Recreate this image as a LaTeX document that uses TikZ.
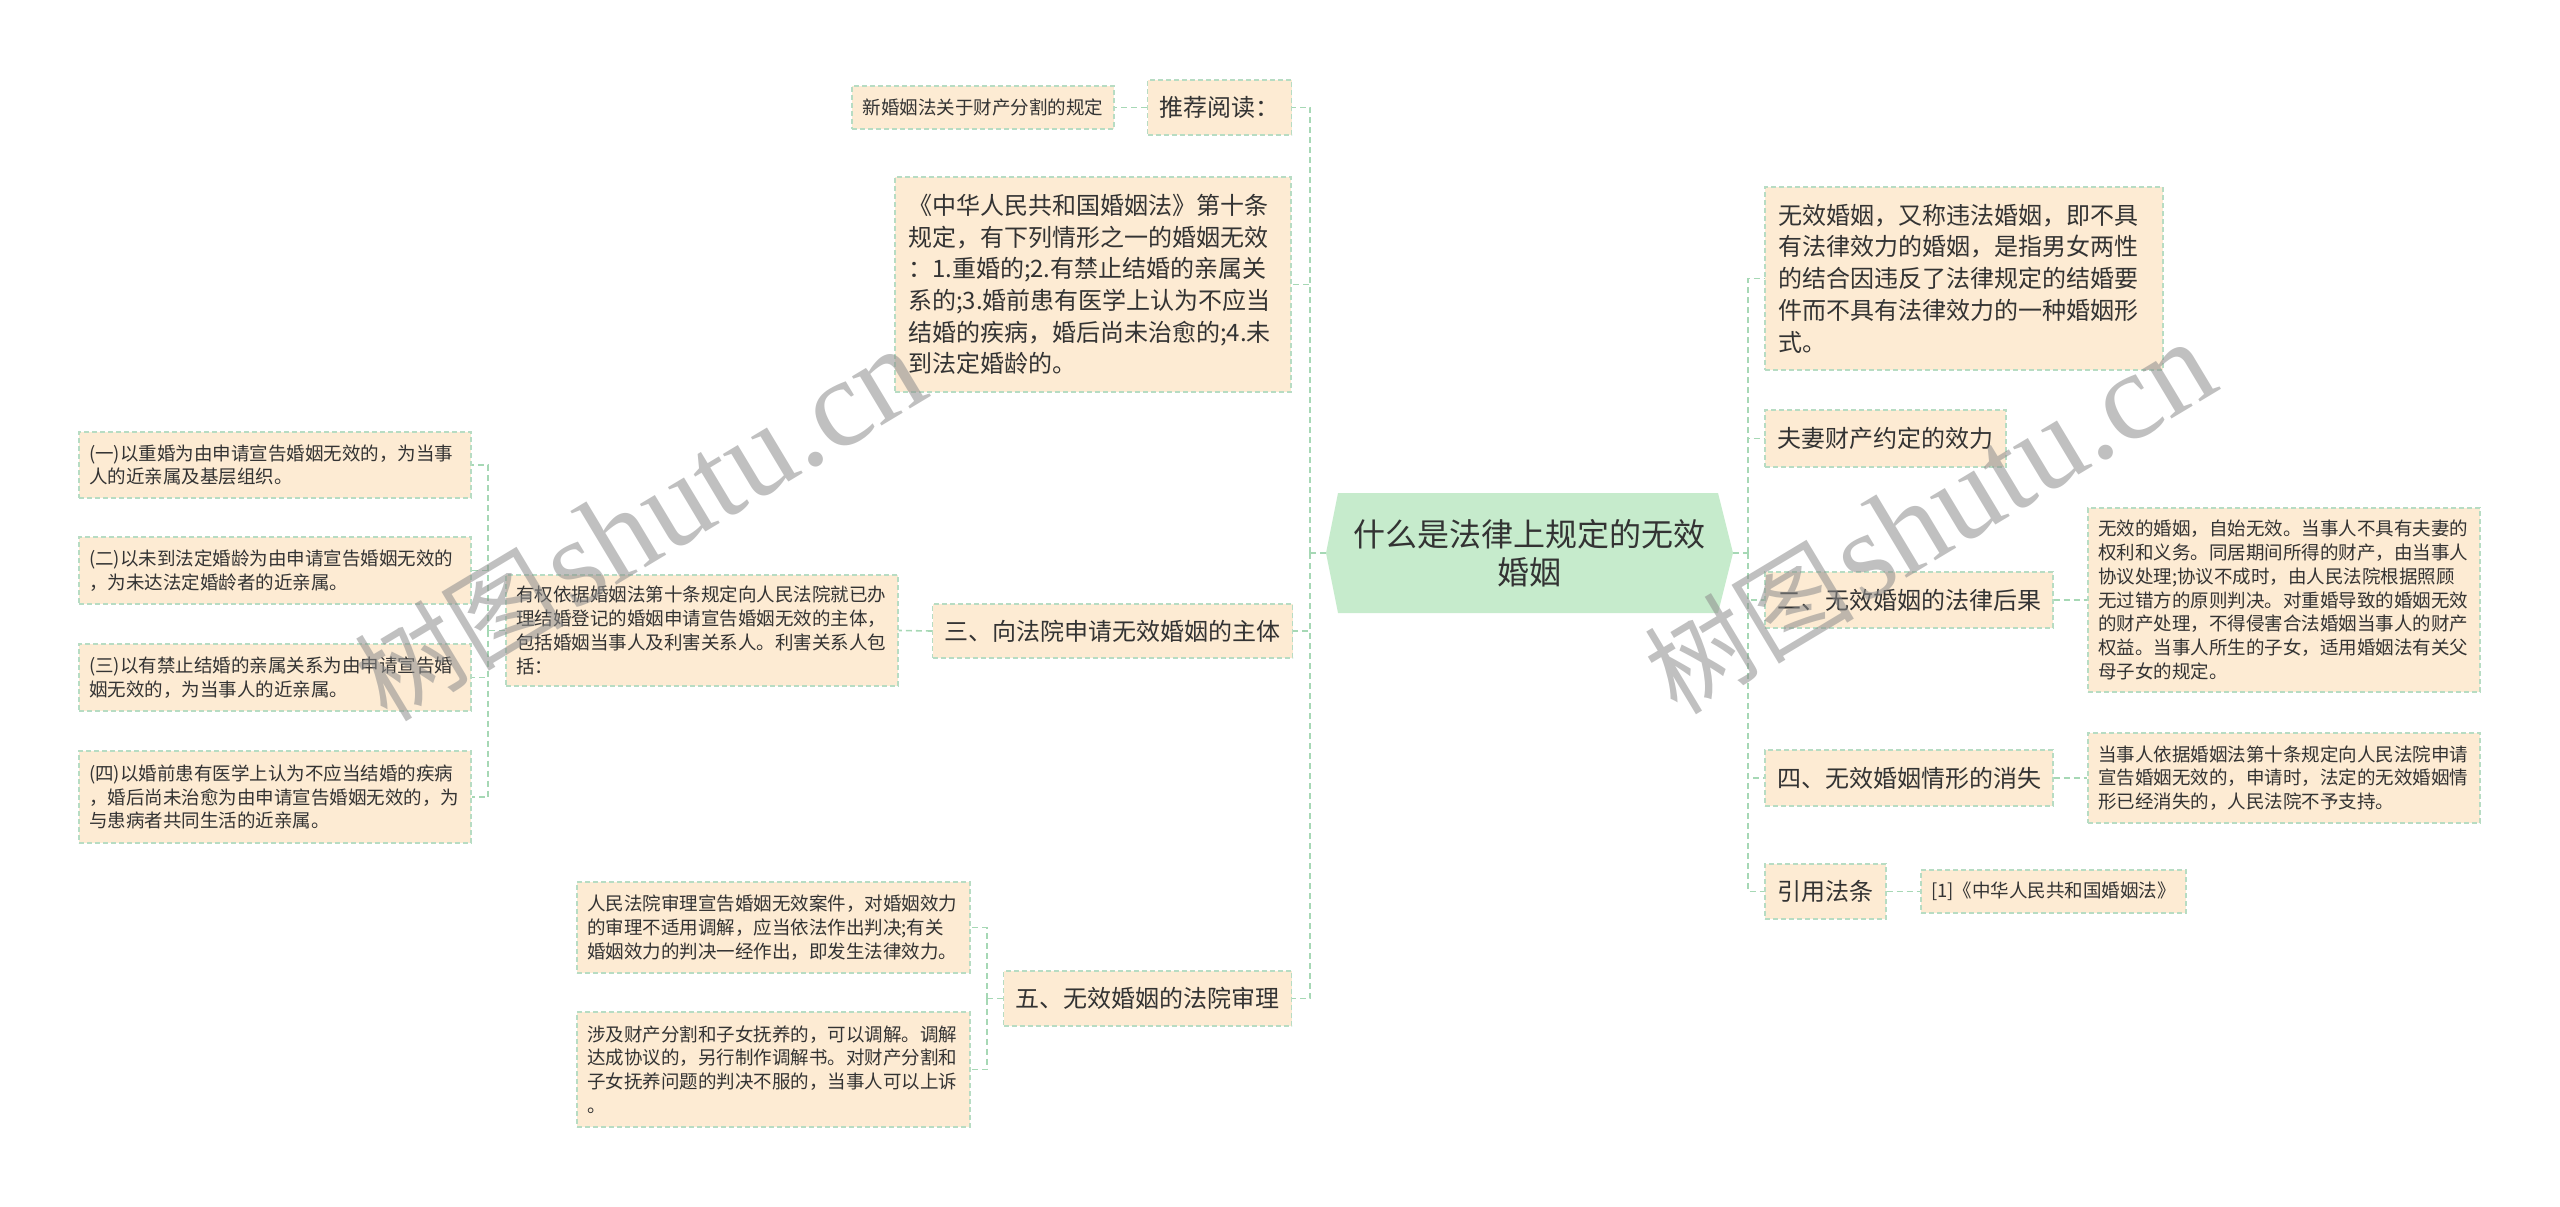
\documentclass[tikz,border=0pt]{standalone}
\usepackage{fontspec}
\setmainfont{Noto Sans CJK SC}
\newfontfamily\wmserif{Liberation Serif}
\newfontfamily\wmcjk{Noto Sans CJK SC}
\usetikzlibrary{calc}
\definecolor{boxfill}{HTML}{FDEBD3}
\definecolor{boxline}{HTML}{B7DCC3}
\definecolor{connline}{HTML}{A6D8B5}
\definecolor{rootfill}{HTML}{C6EBCC}
\definecolor{txt}{HTML}{333333}
\begin{document}
\begin{tikzpicture}[x=1pt,y=-1pt,
  mainbox/.style={draw=boxline, line width=1.3pt, dash pattern=on 5pt off 3pt, fill=boxfill, text=txt,
    font=\fontsize{24}{31.7}\selectfont, inner xsep=12pt, inner ysep=0pt},
  detailbox/.style={draw=boxline, line width=1.3pt, dash pattern=on 5pt off 3pt, fill=boxfill, text=txt,
    font=\fontsize{18.5}{23.8}\selectfont, inner xsep=10pt, inner ysep=0pt},
  conn/.style={draw=connline, line width=1.6pt, dash pattern=on 6pt off 4pt},
]
\useasboundingbox (0,0) rectangle (2560,1207);

% root
\fill[rootfill] (1326,553) -- (1338,493) -- (1718,493) -- (1733,553) -- (1718,613) -- (1338,613) -- cycle;
\node[font=\fontsize{32}{38}\selectfont, text=txt, align=center, minimum width=407pt, minimum height=120pt, inner sep=0pt] (root) at (1529.5,553) {什么是法律上规定的无效\\婚姻};

% left level 1
\node[mainbox, minimum width=143pt, minimum height=55pt] (tj) at (1219.5,107.5) {推荐阅读：};
\node[mainbox, text width=370pt, inner xsep=13pt, minimum height=215pt, align=left] (zh) at (1093,284.5)
 {《中华人民共和国婚姻法》第十条\\规定，有下列情形之一的婚姻无效\\：1.重婚的;2.有禁止结婚的亲属关\\系的;3.婚前患有医学上认为不应当\\结婚的疾病，婚后尚未治愈的;4.未\\到法定婚龄的。};
\node[mainbox, minimum width=357pt, minimum height=54pt] (san) at (1112.5,631) {三、向法院申请无效婚姻的主体};
\node[mainbox, minimum width=287pt, minimum height=55pt] (wu) at (1147.5,998.5) {五、无效婚姻的法院审理};

% left level 2/3
\node[detailbox, minimum width=262pt, minimum height=43pt] (xh) at (983,107.5) {新婚姻法关于财产分割的规定};
\node[detailbox, text width=372pt, minimum height=111pt, align=left] (yq) at (702,630.5)
 {有权依据婚姻法第十条规定向人民法院就已办\\理结婚登记的婚姻申请宣告婚姻无效的主体，\\包括婚姻当事人及利害关系人。利害关系人包\\括：};
\node[detailbox, text width=372pt, minimum height=66pt, align=left] (c1) at (275,465)
 {(一)以重婚为由申请宣告婚姻无效的，为当事\\人的近亲属及基层组织。};
\node[detailbox, text width=372pt, minimum height=67pt, align=left] (c2) at (275,570.5)
 {(二)以未到法定婚龄为由申请宣告婚姻无效的\\，为未达法定婚龄者的近亲属。};
\node[detailbox, text width=372pt, minimum height=67pt, align=left] (c3) at (275,677.5)
 {(三)以有禁止结婚的亲属关系为由申请宣告婚\\姻无效的，为当事人的近亲属。};
\node[detailbox, text width=372pt, minimum height=92pt, align=left] (c4) at (275,797)
 {(四)以婚前患有医学上认为不应当结婚的疾病\\，婚后尚未治愈为由申请宣告婚姻无效的，为\\与患病者共同生活的近亲属。};
\node[detailbox, text width=373pt, minimum height=91pt, align=left] (rm) at (773.5,927.5)
 {人民法院审理宣告婚姻无效案件，对婚姻效力\\的审理不适用调解，应当依法作出判决;有关\\婚姻效力的判决一经作出，即发生法律效力。};
\node[detailbox, text width=373pt, minimum height=115pt, align=left] (sj) at (773.5,1069.5)
 {涉及财产分割和子女抚养的，可以调解。调解\\达成协议的，另行制作调解书。对财产分割和\\子女抚养问题的判决不服的，当事人可以上诉\\。};

% right level 1
\node[mainbox, text width=372pt, inner xsep=13pt, minimum height=183pt, align=left] (wx) at (1964,278.5)
 {无效婚姻，又称违法婚姻，即不具\\有法律效力的婚姻，是指男女两性\\的结合因违反了法律规定的结婚要\\件而不具有法律效力的一种婚姻形\\式。};
\node[mainbox, minimum width=241pt, minimum height=57pt] (fq) at (1885.5,438.5) {夫妻财产约定的效力};
\node[mainbox, minimum width=288pt, minimum height=56pt] (er) at (1909,600) {二、无效婚姻的法律后果};
\node[mainbox, minimum width=288pt, minimum height=56pt] (si) at (1909,778) {四、无效婚姻情形的消失};
\node[mainbox, minimum width=121pt, minimum height=55pt] (yy) at (1825.5,891.5) {引用法条};

% right level 2
\node[detailbox, text width=372pt, minimum height=184pt, align=left] (ew) at (2284,600)
 {无效的婚姻，自始无效。当事人不具有夫妻的\\权利和义务。同居期间所得的财产，由当事人\\协议处理;协议不成时，由人民法院根据照顾\\无过错方的原则判决。对重婚导致的婚姻无效\\的财产处理，不得侵害合法婚姻当事人的财产\\权益。当事人所生的子女，适用婚姻法有关父\\母子女的规定。};
\node[detailbox, text width=372pt, minimum height=90pt, align=left] (xs) at (2284,778)
 {当事人依据婚姻法第十条规定向人民法院申请\\宣告婚姻无效的，申请时，法定的无效婚姻情\\形已经消失的，人民法院不予支持。};
\node[detailbox, minimum width=265pt, minimum height=43pt] (fl) at (2053.5,891.5) {[1]《中华人民共和国婚姻法》};

% connectors
\coordinate (tl) at (1310,553);
\coordinate (tr) at (1748,553);
\draw[conn] (root.west) -- (tl);
\draw[conn] (tl) |- (tj.east);
\draw[conn] (tl) |- (zh.east);
\draw[conn] (tl) |- (san.east);
\draw[conn] (tl) |- (wu.east);
\draw[conn] (root.east) -- (tr);
\draw[conn] (tr) |- (wx.west);
\draw[conn] (tr) |- (fq.west);
\draw[conn] (tr) |- (er.west);
\draw[conn] (tr) |- (si.west);
\draw[conn] (tr) |- (yy.west);

\draw[conn] (tj.west) -- (xh.east);
\draw[conn] (san.west) -- (yq.east);
\coordinate (yqT) at (488,630.5);
\draw[conn] (yq.west) -- (yqT);
\draw[conn] (yqT) |- (c1.east);
\draw[conn] (yqT) |- (c2.east);
\draw[conn] (yqT) |- (c3.east);
\draw[conn] (yqT) |- (c4.east);
\coordinate (wuT) at (987,998.5);
\draw[conn] (wu.west) -- (wuT);
\draw[conn] (wuT) |- (rm.east);
\draw[conn] (wuT) |- (sj.east);

\draw[conn] (er.east) -- (ew.west);
\draw[conn] (si.east) -- (xs.west);
\draw[conn] (yy.east) -- (fl.west);

% watermarks
\node[rotate=31, text=black!45, opacity=0.55, inner sep=0pt] (wm1) at (640,525)
 {{\wmcjk\fontsize{105}{105}\selectfont 树图}\hspace{6pt}{\wmserif\fontsize{125}{125}\selectfont shutu.cn}};
\node[rotate=31, text=black!45, opacity=0.55, inner sep=0pt] (wm2) at (1930,518)
 {{\wmcjk\fontsize{105}{105}\selectfont 树图}\hspace{6pt}{\wmserif\fontsize{125}{125}\selectfont shutu.cn}};
\end{tikzpicture}
\end{document}
